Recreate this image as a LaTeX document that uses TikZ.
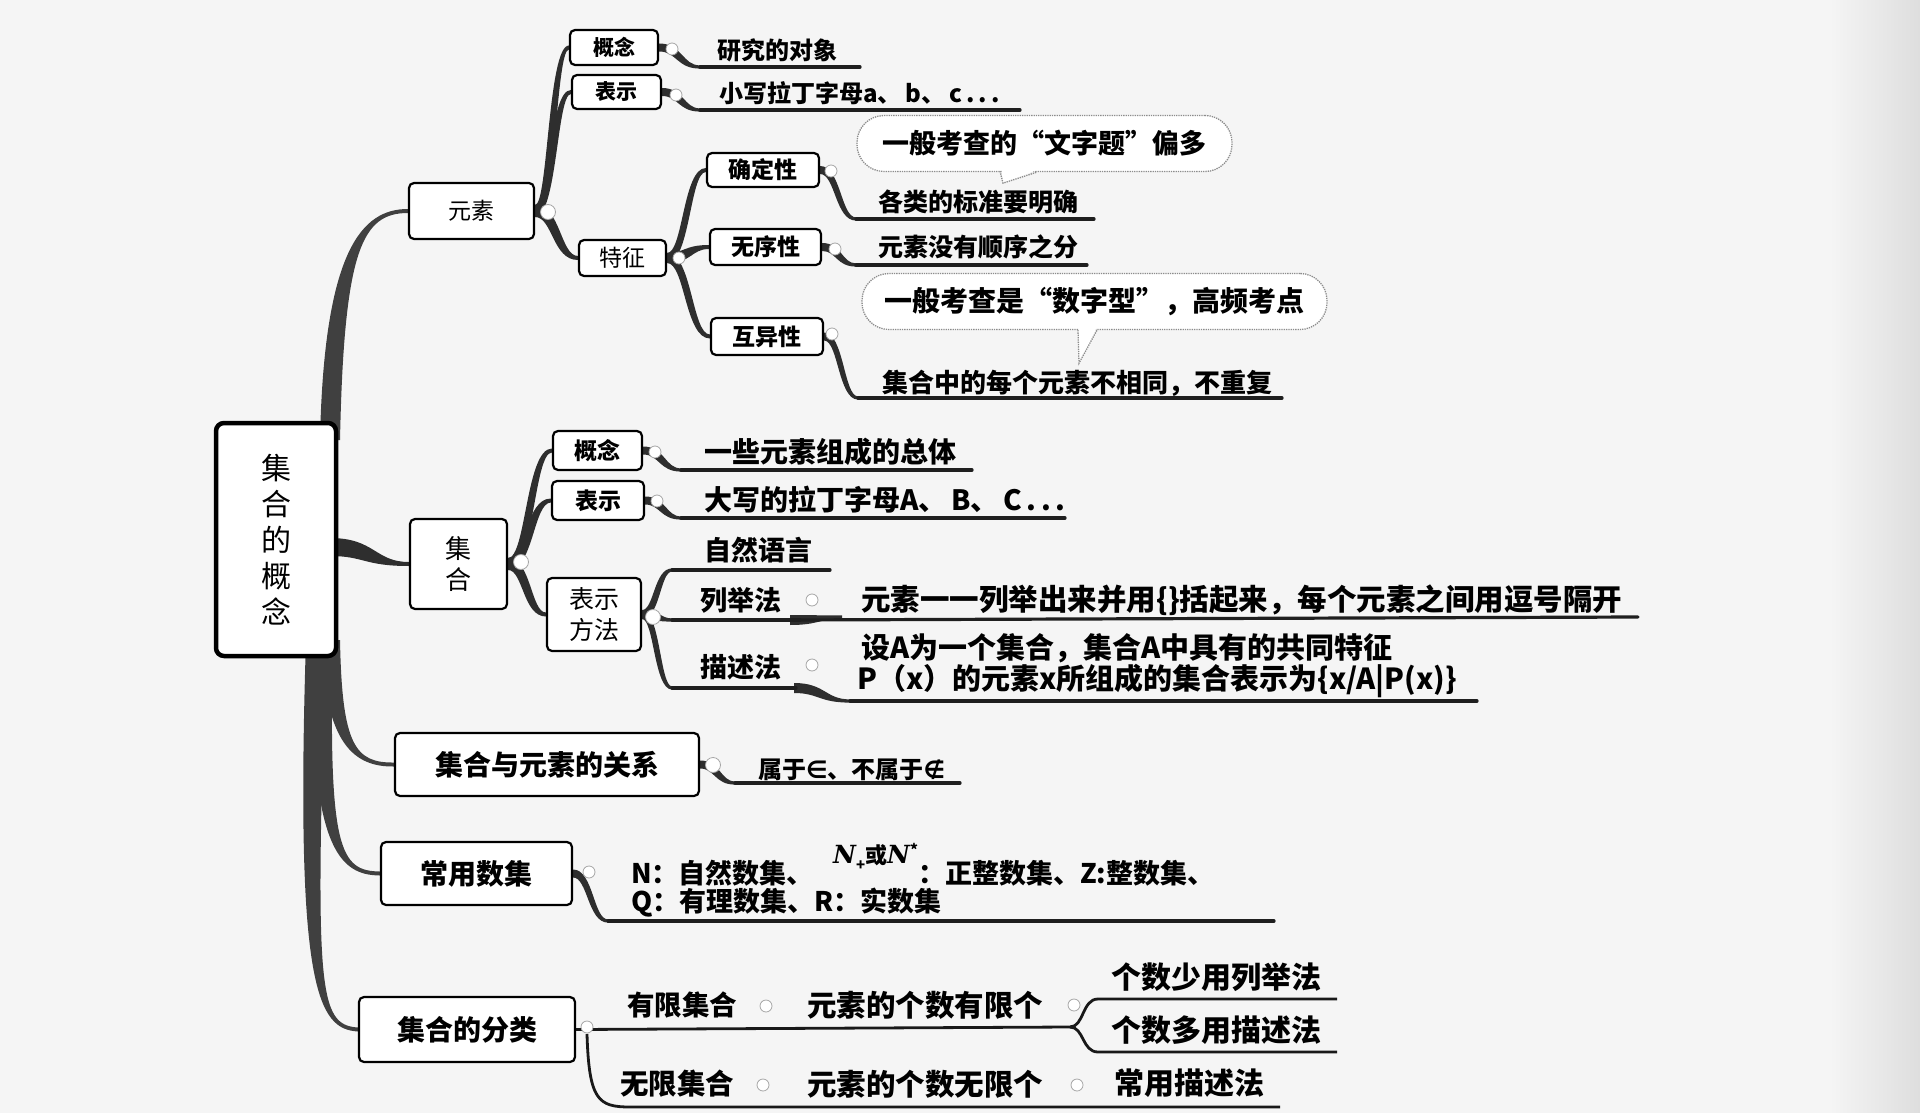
\documentclass[tikz,border=0pt]{standalone}
\usepackage{fontspec}
\setmainfont{Noto Sans CJK SC}
\newfontfamily\dvserif{DejaVu Serif}
\newfontfamily\dvsans{DejaVu Sans}
\usetikzlibrary{calc}
\pgfdeclarelayer{back}\pgfdeclarelayer{bg}\pgfsetlayers{back,bg,main}
\newcommand\fs[2]{\fontsize{#1}{#2}\selectfont}
\newcommand\fb[2]{\fontsize{#1}{#2}\selectfont\bfseries}
% tapered S-branch, horizontal at both ends
\newcommand\sbr[4]{%
 \begin{pgfonlayer}{bg}
 \fill[branch] let \p1=#1, \p2=#2,
   \n1={(\y2>\y1)*2-1}, \n2={(\x1+\x2)/2}, \n3={(#3+#4)/2} in
   (\x1,{\y1+#3pt}) .. controls ({(\n2-(\n1)*\n3)*1pt},{\y1+#3pt}) and ({(\n2-(\n1)*\n3)*1pt},{\y2+#4pt}) .. (\x2,{\y2+#4pt})
   -- (\x2,{\y2-#4pt}) .. controls ({(\n2+(\n1)*\n3)*1pt},{\y2-#4pt}) and ({(\n2+(\n1)*\n3)*1pt},{\y1-#3pt}) .. (\x1,{\y1-#3pt}) -- cycle;
 \end{pgfonlayer}}
% tapered branch, vertical at start, horizontal at end
\newcommand\vbr[6]{%
 \begin{pgfonlayer}{bg}
 \fill[trunk] let \p1=#1, \p2=#2, \p3=#3, \p4=#4, \n1={(\y4>\y1)*2-1} in
  ({\x1-#5pt},\y1) .. controls ({\x2-#5pt},\y2) and (\x3,{\y3+(\n1)*#6pt}) .. (\x4,{\y4+(\n1)*#6pt})
  -- (\x4,{\y4-(\n1)*#6pt}) .. controls (\x3,{\y3-(\n1)*#6pt}) and ({\x2+#5pt},\y2) .. ({\x1+#5pt},\y1) -- cycle;
 \end{pgfonlayer}}
\tikzset{
  box/.style={draw=black, line width=2.2pt, rounded corners=5pt, fill=white, inner sep=0pt, align=center},
  leaf/.style={anchor=west, inner sep=0pt},
  uline/.style={line width=3.2pt, draw=black!88, line cap=round},
  thinline/.style={line width=2.8pt, draw=black!90},
  branch/.style={fill=black!82},
  trunk/.style={fill=black!75},
  knob/.style={circle, draw=black!35, fill=white, line width=0.8pt, minimum size=12pt, inner sep=0pt},
  bubble/.style={draw=black!45, densely dotted, line width=1.3pt, rounded corners=27pt, fill=white, inner sep=0pt},
  bubbleline/.style={draw=black!45, densely dotted, line width=1.3pt},
}
\begin{document}
\begin{tikzpicture}[x=1pt,y=-1pt]
\begin{pgfonlayer}{back}
\fill[black!4] (0,0) rectangle (1920,1113);
\shade[left color=black!4, right color=black!13] (1830,0) rectangle (1920,1113);
\end{pgfonlayer}
\useasboundingbox (0,0) rectangle (1920,1113);

% ---------- boxes ----------
\node[box, line width=4.5pt, rounded corners=8pt, minimum width=120pt, minimum height=233pt, font=\fs{30}{36}] (root) at (276,539.5) {集\\合\\的\\概\\念};
\node[box, minimum width=125pt, minimum height=56pt, font=\fs{23}{26}] (ys) at (471.5,211) {元素};
\node[box, minimum width=88pt, minimum height=35pt, font=\fb{21}{25}] (gn1) at (614,47.5) {概念};
\node[box, minimum width=89pt, minimum height=34pt, font=\fb{21}{25}] (bs1) at (616.5,92) {表示};
\node[box, minimum width=87pt, minimum height=36pt, font=\fs{23}{26}] (tz) at (622.5,258) {特征};
\node[box, minimum width=112pt, minimum height=34pt, font=\fb{23}{26}] (qd) at (763,170) {确定性};
\node[box, minimum width=111pt, minimum height=36pt, font=\fb{23}{26}] (wx) at (765.5,247) {无序性};
\node[box, minimum width=112pt, minimum height=37pt, font=\fb{23}{26}] (hy) at (767,336.5) {互异性};
\node[box, minimum width=97pt, minimum height=90pt, font=\fs{26}{31}] (jh) at (458.5,564) {集\\合};
\node[box, minimum width=89pt, minimum height=39pt, font=\fb{23}{27}] (gn2) at (597.5,450.5) {概念};
\node[box, minimum width=92pt, minimum height=39pt, font=\fb{23}{27}] (bs2) at (598,500.5) {表示};
\node[box, minimum width=94pt, minimum height=73pt, font=\fs{25}{31}] (bsff) at (594,614.5) {表示\\方法};
\node[box, minimum width=304pt, minimum height=63pt, font=\fb{28}{31}] (gx) at (547,764.5) {集合与元素的关系};
\node[box, minimum width=191pt, minimum height=63pt, font=\fb{28}{31}] (cy) at (476.5,873.5) {常用数集};
\node[box, minimum width=216pt, minimum height=65pt, font=\fb{28}{31}] (fl) at (467,1029.5) {集合的分类};

% ---------- bubbles ----------
\node[bubble, minimum width=375pt, minimum height=56pt, font=\fb{27}{30}] (b1) at (1044.5,143.5) {一般考查的“文字题”偏多};
\fill[white] ($(b1.south)+(-43,-2)$) -- ($(b1.south)+(-41.5,11)$) -- ($(b1.south)+(-8,-2)$) -- cycle;
\draw[bubbleline] ($(b1.south)+(-44.5,-1)$) -- ($(b1.south)+(-41.5,11)$) -- ($(b1.south)+(-7.5,0)$);
\node[bubble, minimum width=465pt, minimum height=56pt, font=\fb{28}{31}] (b2) at (1094.5,301.5) {一般考查是“数字型”，高频考点};
\fill[white] ($(b2.south)+(-16,-2)$) -- ($(b2.south)+(-15.5,33)$) -- ($(b2.south)+(2,-2)$) -- cycle;
\draw[bubbleline] ($(b2.south)+(-16.5,0)$) -- ($(b2.south)+(-15.5,33)$) -- ($(b2.south)+(2.5,0)$);

% ---------- leaf texts ----------
\node[leaf, font=\fb{24}{27}] (l1) at (717,50) {研究的对象};
\node[leaf, font=\fb{24}{27}] (l2) at (719,93) {小写拉丁字母a、\,b、\,c\,.\,.\,.};
\node[leaf, font=\fb{25}{28}] (l3) at (878,202) {各类的标准要明确};
\node[leaf, font=\fb{25}{28}] (l4) at (878,247) {元素没有顺序之分};
\node[leaf, font=\fb{26}{29}] (l5) at (882,383) {集合中的每个元素不相同，不重复};
\node[leaf, font=\fb{28}{31}] (l6) at (704,452) {一些元素组成的总体};
\node[leaf, font=\fb{28}{31}] (l7) at (704,500) {大写的拉丁字母A、\,B、\,C\,.\,.\,.};
\node[leaf, font=\fb{27}{30}] (l8) at (704,550) {自然语言};
\node[leaf, font=\fb{27}{30}] (l9) at (700,600) {列举法};
\node[leaf, font=\fb{29.5}{32}] (l10) at (861,600) {元素一一列举出来并用\{\}括起来，每个元素之间用逗号隔开};
\node[leaf, font=\fb{27}{30}] (l11) at (700,667) {描述法};
\node[leaf, font=\fb{29}{32}] (l12a) at (861,648) {设A为一个集合，集合A中具有的共同特征};
\node[leaf, font=\fb{29}{32}] (l12b) at (857,681) {P（x）的元素x所组成的集合表示为\{x/A|P(x)\}};
\node[leaf, font=\fb{24}{27}] (l13) at (758,770) {属于{\dvsans ∈}、不属于{\dvsans ∉}};
\node[leaf, font=\fb{27}{30}] (l14a) at (631,873) {N：自然数集、};
\node[leaf, font=\fb{22}{24}] (l14n) at (833,857) {{\dvserif\bfseries\itshape\fontsize{25}{25}\selectfont N}\raisebox{-7pt}{\fontsize{15}{15}\selectfont +}或{\dvserif\bfseries\itshape\fontsize{25}{25}\selectfont N}\raisebox{8pt}{\fontsize{15}{15}\selectfont *}};
\node[leaf, font=\fb{27}{30}] (l14b) at (918,873) {：正整数集、Z:整数集、};
\node[leaf, font=\fb{27}{30}] (l14c) at (631,903) {Q：有理数集、R：实数集};
\node[leaf, font=\fb{27.5}{31}] (f1) at (627,1005) {有限集合};
\node[leaf, font=\fb{29.5}{32}] (f2) at (807,1005) {元素的个数有限个};
\node[leaf, font=\fb{30}{32}] (f3) at (1111,977) {个数少用列举法};
\node[leaf, font=\fb{30}{32}] (f4) at (1111,1030) {个数多用描述法};
\node[leaf, font=\fb{28.5}{31}] (f5) at (620,1084) {无限集合};
\node[leaf, font=\fb{29.5}{32}] (f6) at (807,1084) {元素的个数无限个};
\node[leaf, font=\fb{30}{32}] (f7) at (1114,1083) {常用描述法};

% ---------- main trunk ----------
\vbr{(330,440)}{(334,250)}{(362,211)}{(ys.west)}{10}{2}
\sbr{(330,547)}{(jh.west)}{9}{2}
\vbr{(331,640)}{(333,745)}{(355,765)}{(gx.west)}{9}{2}
\vbr{(323,640)}{(318,850)}{(340,873)}{(cy.west)}{10}{2}
\vbr{(316,640)}{(305,990)}{(318,1027)}{(fl.west)}{10}{2}

% ---------- second level ----------
\sbr{(ys.east)}{(gn1.west)}{6}{2}
\sbr{(ys.east)}{(bs1.west)}{6}{2}
\sbr{(ys.east)}{(tz.west)}{6}{2}
\sbr{(tz.east)}{(qd.west)}{5}{2}
\sbr{(tz.east)}{(wx.west)}{5}{2}
\sbr{(tz.east)}{(hy.west)}{5}{2}
\sbr{(jh.east)}{(gn2.west)}{6}{2}
\sbr{(jh.east)}{(bs2.west)}{6}{2}
\sbr{(jh.east)}{(bsff.west)}{6}{2}

% ---------- underlines ----------
\coordinate (u1s) at (700,67);  \coordinate (u1e) at (860,67);
\coordinate (u2s) at (700,110); \coordinate (u2e) at (1020,110);
\coordinate (u3s) at (856,219); \coordinate (u3e) at (1094,219);
\coordinate (u4s) at (856,265); \coordinate (u4e) at (1087,265);
\coordinate (u5s) at (858,398); \coordinate (u5e) at (1282,398);
\coordinate (u6s) at (681,470); \coordinate (u6e) at (972,470);
\coordinate (u7s) at (681,518); \coordinate (u7e) at (1065,518);
\coordinate (u8s) at (672,570); \coordinate (u8e) at (830,570);
\coordinate (u9s) at (672,620); \coordinate (u9e) at (800,620);
\coordinate (u10a) at (790,620); \coordinate (u10s) at (842,617); \coordinate (u10e) at (1638,617);
\coordinate (u11s) at (672,688); \coordinate (u11e) at (796,688);
\coordinate (u12a) at (794,688); \coordinate (u12s) at (850,701); \coordinate (u12e) at (1477,701);
\coordinate (u13s) at (735,783); \coordinate (u13e) at (960,783);
\coordinate (u14s) at (608,921); \coordinate (u14e) at (1274,921);

\sbr{(gn1.east)}{(u1s)}{4}{1.6}  \draw[uline] (u1s) -- (u1e);
\sbr{(bs1.east)}{(u2s)}{4}{1.6}  \draw[uline] (u2s) -- (u2e);
\sbr{(qd.east)}{(u3s)}{4}{1.6}   \draw[uline] (u3s) -- (u3e);
\sbr{(wx.east)}{(u4s)}{4}{1.6}   \draw[uline] (u4s) -- (u4e);
\sbr{(hy.east)}{(u5s)}{4}{1.6}   \draw[uline] (u5s) -- (u5e);
\sbr{(gn2.east)}{(u6s)}{4}{1.6}  \draw[uline] (u6s) -- (u6e);
\sbr{(bs2.east)}{(u7s)}{4}{1.6}  \draw[uline] (u7s) -- (u7e);
\sbr{(bsff.east)}{(u8s)}{4.5}{1.6} \draw[uline] (u8s) -- (u8e);
\sbr{(bsff.east)}{(u9s)}{4.5}{1.6} \draw[uline] (u9s) -- (u9e);
\sbr{(u10a)}{(u10s)}{5}{1.6}     \draw[uline] (u10a) -- (u10e);
\sbr{(bsff.east)}{(u11s)}{4.5}{1.6} \draw[uline] (u11s) -- (u11e);
\sbr{(u12a)}{(u12s)}{5}{1.6}     \draw[uline] (u12s) -- (u12e);
\sbr{(gx.east)}{(u13s)}{4}{1.6}  \draw[uline] (u13s) -- (u13e);
\sbr{(cy.east)}{(u14s)}{4}{1.6}  \draw[uline] (u14s) -- (u14e);

% ---------- classification lines ----------
\coordinate (fk) at (1070,1027);
\coordinate (fu) at (1337,999);
\coordinate (fd) at (1337,1052);
\coordinate (fb) at (1280,1107);
\draw[thinline] (fl.east) -- (fk) .. controls (1084,1027) and (1082,999) .. (1098,999) -- (fu);
\draw[thinline] (fk) .. controls (1084,1027) and (1082,1052) .. (1098,1052) -- (fd);
\draw[thinline] (587,1034) .. controls (589,1100) and (598,1107) .. (630,1107) -- (fb);

% ---------- knobs ----------
\node[knob] (k1) at (672,49) {};
\node[knob] (k2) at (676,95) {};
\node[knob, minimum size=15pt] (k3) at (548,212) {};
\node[knob] (k4) at (679,258) {};
\node[knob] (k5) at (831,171) {};
\node[knob] (k6) at (835,249) {};
\node[knob] (k7) at (832,334) {};
\node[knob, minimum size=15pt] (k8) at (521,562) {};
\node[knob] (k9) at (655,452) {};
\node[knob] (k10) at (657,501) {};
\node[knob, minimum size=15pt] (k11) at (653,617) {};
\node[knob] (k12) at (812,600) {};
\node[knob] (k13) at (812,665) {};
\node[knob, minimum size=15pt] (k14) at (713,765) {};
\node[knob] (k15) at (589,872) {};
\node[knob] (k16) at (587,1027) {};
\node[knob] (k17) at (766,1006) {};
\node[knob] (k18) at (1074,1005) {};
\node[knob] (k19) at (763,1085) {};
\node[knob] (k20) at (1077,1085) {};
\end{tikzpicture}
\end{document}
